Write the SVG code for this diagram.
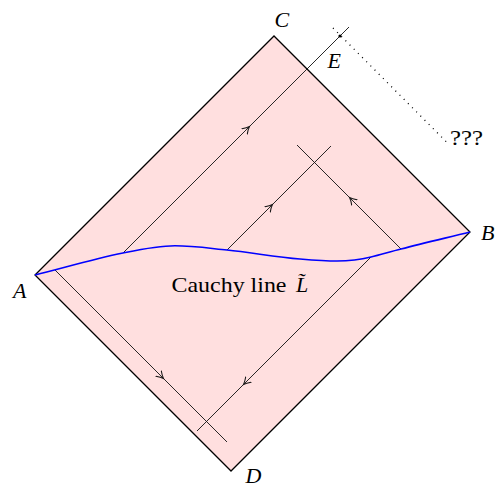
<svg xmlns="http://www.w3.org/2000/svg" width="502" height="487" viewBox="0 0 502 487">
<defs>
<marker id="arr" viewBox="-7 -5 9 10" markerWidth="9" markerHeight="10" refX="0" refY="0" orient="auto" markerUnits="userSpaceOnUse">
<path d="M-6.2,-3.8 Q-2.2,-0.9 0.7,0 Q-2.2,0.9 -6.2,3.8" fill="none" stroke="#111" stroke-width="1" stroke-linecap="round"/>
</marker>
</defs>
<style>
.lbl{font-family:"Liberation Serif","Times New Roman",serif;font-size:22px;fill:#000}
.it{font-style:italic}
.ray{fill:none;stroke:#111;stroke-width:0.9;marker-mid:url(#arr)}
</style>
<rect width="502" height="487" fill="#fff"/>
<g id="region">
<polygon points="35,275 274,36 470,232 231,471" fill="#ffdfdf" stroke="#000" stroke-width="1.3" stroke-linejoin="miter"/>
</g>
<g id="connectors">
<path class="ray" d="M123,253 L249,127 L349,27"/>
<path class="ray" d="M227,250 L272,205 L331,146"/>
<path class="ray" d="M401,249 L350,198 L297,145"/>
<path class="ray" d="M371,257 L244,384 L197,431"/>
<path class="ray" d="M55,270 L163,378 L227,442"/>
<path d="M333,28 L448,143.5" fill="none" stroke="#000" stroke-width="1.3" stroke-dasharray="1 4.9"/>
</g>
<g id="cauchy">
<path d="M35,275 C64.3,267.7 93.7,258.9 123,253 C140.3,249.5 157.7,245.8 175,245.8 C192.3,245.8 209.7,248.3 227,250 C251.3,252.4 275.7,257.1 300,259 C312.3,260 324.7,261 337,261 C348.3,261 359.7,259.8 371,257 C381,254.5 391,251.5 401,249 C424,243 447,237.7 470,232" fill="none" stroke="#0000ff" stroke-width="1.6"/>
</g>
<g id="E">
<circle cx="340" cy="36" r="1.6" fill="#000"/>
<text class="lbl it" x="327.5" y="68">E</text>
</g>
<g id="A"><text class="lbl it" x="13" y="298">A</text></g>
<g id="B"><text class="lbl it" x="481" y="240">B</text></g>
<g id="C"><text class="lbl it" x="274.5" y="26.5">C</text></g>
<g id="D"><text class="lbl it" x="245.5" y="483">D</text></g>
<g id="unknown"><text class="lbl" x="450" y="145" textLength="33" lengthAdjust="spacingAndGlyphs">???</text></g>
<g id="label"><text class="lbl" x="171.5" y="292" textLength="115" lengthAdjust="spacingAndGlyphs">Cauchy line</text><text class="lbl it" x="296" y="292">L̃</text></g>
</svg>
